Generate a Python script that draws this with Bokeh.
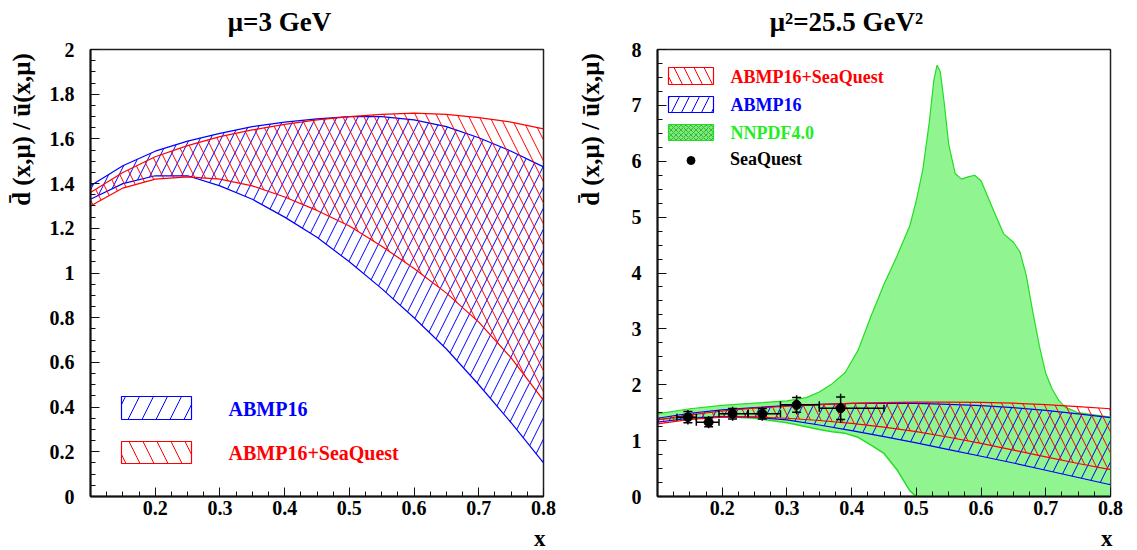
import numpy as np
from bokeh.plotting import figure
from bokeh.layouts import row, column
from bokeh.models import (FixedTicker, PrintfTickFormatter, Label, BoxAnnotation,
                          Legend, LegendItem, Range1d)
from bokeh.core.properties import value
from bokeh.embed import file_html
from bokeh.resources import INLINE

# ---------------- data ----------------
x_nodes = [0.10, 0.15, 0.20, 0.25, 0.30, 0.35, 0.40, 0.45, 0.50, 0.55, 0.60, 0.65, 0.70, 0.75, 0.80]

# mu = 3 GeV
l_blue_hi = [1.39, 1.48, 1.545, 1.59, 1.625, 1.655, 1.675, 1.69, 1.70, 1.70, 1.685, 1.655, 1.605, 1.545, 1.475]
l_blue_lo = [1.33, 1.40, 1.435, 1.435, 1.39, 1.33, 1.25, 1.16, 1.05, 0.93, 0.80, 0.66, 0.50, 0.33, 0.15]
l_red_hi = [1.36, 1.45, 1.52, 1.57, 1.61, 1.64, 1.665, 1.685, 1.70, 1.71, 1.715, 1.71, 1.695, 1.675, 1.645]
l_red_lo = [1.30, 1.38, 1.42, 1.43, 1.42, 1.39, 1.34, 1.28, 1.21, 1.12, 1.02, 0.91, 0.78, 0.62, 0.43]

# mu^2 = 25.5 GeV^2
r_blue_hi = [1.40, 1.49, 1.55, 1.59, 1.625, 1.65, 1.665, 1.67, 1.665, 1.65, 1.625, 1.59, 1.54, 1.48, 1.41]
r_blue_lo = [1.33, 1.40, 1.43, 1.42, 1.37, 1.28, 1.18, 1.07, 0.96, 0.84, 0.72, 0.60, 0.47, 0.34, 0.21]
r_red_hi = [1.37, 1.46, 1.53, 1.58, 1.615, 1.645, 1.665, 1.68, 1.69, 1.69, 1.685, 1.67, 1.645, 1.61, 1.57]
r_red_lo = [1.30, 1.38, 1.42, 1.42, 1.40, 1.36, 1.31, 1.24, 1.16, 1.06, 0.95, 0.83, 0.71, 0.59, 0.48]

nn_x = [0.10, 0.15, 0.20, 0.25, 0.30, 0.33, 0.35, 0.37, 0.39, 0.41, 0.43, 0.45, 0.47, 0.49,
        0.50, 0.51, 0.52, 0.527, 0.532, 0.537, 0.543, 0.55, 0.56, 0.57, 0.58, 0.59, 0.60,
        0.62, 0.635, 0.65, 0.66, 0.67, 0.68, 0.69, 0.70, 0.71, 0.72, 0.73, 0.75, 0.80]
nn_hi = [1.48, 1.57, 1.63, 1.67, 1.71, 1.77, 1.87, 2.02, 2.22, 2.62, 3.23, 3.80, 4.30, 4.85,
         5.30, 5.85, 6.70, 7.45, 7.72, 7.60, 7.05, 6.30, 5.78, 5.68, 5.72, 5.75, 5.65,
         5.10, 4.70, 4.55, 4.38, 3.95, 3.30, 2.70, 2.20, 1.92, 1.72, 1.60, 1.50, 1.42]
nn_lo = [1.38, 1.41, 1.43, 1.40, 1.32, 1.25, 1.20, 1.16, 1.13, 1.06, 0.92, 0.77, 0.48, 0.10,
         0.0, 0.0, 0.0, 0.0, 0.0, 0.0, 0.0, 0.0, 0.0, 0.0, 0.0, 0.0, 0.0,
         0.0, 0.0, 0.0, 0.0, 0.0, 0.0, 0.0, 0.0, 0.0, 0.0, 0.0, 0.0, 0.0]

# SeaQuest points
sq_x = [0.147, 0.179, 0.216, 0.262, 0.315, 0.383]
sq_xlo = [0.130, 0.160, 0.195, 0.240, 0.290, 0.350]
sq_xhi = [0.160, 0.195, 0.240, 0.290, 0.350, 0.450]
sq_r = [1.42, 1.33, 1.48, 1.48, 1.64, 1.58]
sq_err_tot = [0.13, 0.11, 0.125, 0.125, 0.17, 0.26]
sq_err_stat = [0.10, 0.08, 0.095, 0.095, 0.13, 0.20]

x_ticks = [0.2, 0.3, 0.4, 0.5, 0.6, 0.7, 0.8]
l_y_ticks = [0, 0.2, 0.4, 0.6, 0.8, 1.0, 1.2, 1.4, 1.6, 1.8, 2.0]
r_y_ticks = [0, 1, 2, 3, 4, 5, 6, 7, 8]

titles = ["\u03bc=3 GeV", "\u03bc\u00b2=25.5 GeV\u00b2"]
YLABEL = "d\u0304 (x,\u03bc) / u\u0304(x,\u03bc)"
XLABEL = "x"

FONT = "Liberation Serif"
BLUE = "#0000ff"
RED = "#ff0000"
GREEN_FILL = "#90f590"
GREEN_LINE = "#22dd22"

TOP_H = 37
ROW_H = 486
BOT_H = 27


def make_fig(width, bl, br, ymax, yticks, yminor):
    p = figure(width=width, height=ROW_H, x_range=Range1d(0.1, 0.8), y_range=Range1d(0, ymax),
               output_backend="svg", toolbar_location=None, title=None,
               min_border_left=bl, min_border_right=br, min_border_top=12, min_border_bottom=27)
    p.grid.visible = False
    p.outline_line_color = "#222222"
    p.outline_line_width = 1.5
    p.background_fill_color = "white"
    p.border_fill_color = "white"
    p.xaxis.ticker = FixedTicker(ticks=x_ticks, minor_ticks=list(np.arange(0.1, 0.8001, 0.025)))
    p.yaxis.ticker = FixedTicker(ticks=yticks, minor_ticks=yminor)
    for ax in (p.xaxis[0], p.yaxis[0]):
        ax.axis_line_color = "#111111"
        ax.axis_line_width = 2
        ax.major_tick_in = 9
        ax.major_tick_out = 0
        ax.minor_tick_in = 5
        ax.minor_tick_out = 0
        ax.major_tick_line_color = "#111111"
        ax.minor_tick_line_color = "#111111"
        ax.major_label_text_font = FONT
        ax.major_label_text_font_style = "bold"
        ax.major_label_text_font_size = "20px"
        ax.major_label_text_color = "black"
        ax.formatter = PrintfTickFormatter(format="%g")
    p.xaxis.major_label_standoff = 4
    p.yaxis.major_label_standoff = 16
    return p


def make_strip(width, height):
    s = figure(width=width, height=height, x_range=Range1d(0, width), y_range=Range1d(0, height),
               output_backend="svg", toolbar_location=None, title=None,
               x_axis_type=None, y_axis_type=None, min_border=0)
    s.grid.visible = False
    s.outline_line_color = None
    s.background_fill_color = "white"
    s.border_fill_color = "white"
    return s


def add_text(p, text, x, y, size, color="black", align="left"):
    p.add_layout(Label(x=x, y=y, x_units="screen", y_units="screen", text=text,
                       text_font=FONT, text_font_style="bold", text_font_size=size,
                       text_color=color, text_align=align, text_baseline="middle"))


def add_band(p, xs, lo, hi, color, pattern):
    p.varea(x=xs, y1=lo, y2=hi, fill_alpha=0, hatch_pattern=pattern, hatch_color=color,
            hatch_scale=21, hatch_weight=1)
    p.line(xs, hi, line_color=color, line_width=1.2)
    p.line(xs, lo, line_color=color, line_width=1.2)


def legend_box(p, left, right, bottom, top, col, pat, scale, fill=None, falpha=0.0, hcol=None):
    p.add_layout(BoxAnnotation(left=left, right=right, bottom=bottom, top=top,
                               left_units="screen", right_units="screen",
                               bottom_units="screen", top_units="screen",
                               fill_color=fill, fill_alpha=falpha, line_color=col, line_width=1.2,
                               line_alpha=1, hatch_pattern=pat, hatch_color=hcol or col,
                               hatch_scale=scale, hatch_weight=1))


# ---------------- left panel ----------------
p1 = make_fig(523, 45, 25, 2, l_y_ticks, list(np.arange(0, 2.001, 0.05)))
add_band(p1, x_nodes, l_blue_lo, l_blue_hi, BLUE, "/")
add_band(p1, x_nodes, l_red_lo, l_red_hi, RED, "\\")

legend_box(p1, 31, 101, 77, 100, BLUE, "/", 28)
legend_box(p1, 31, 101, 33, 55, RED, "\\", 28)
add_text(p1, "ABMP16", 138, 88, "20px", color=BLUE)
add_text(p1, "ABMP16+SeaQuest", 138, 44, "20px", color=RED)

# ---------------- right panel ----------------
p2 = make_fig(524, 44, 27, 8, r_y_ticks, list(np.arange(0, 8.001, 0.25)))
p2.varea(x=nn_x, y1=nn_lo, y2=nn_hi, fill_color=GREEN_FILL, fill_alpha=1)
p2.line(nn_x, nn_hi, line_color=GREEN_LINE, line_width=1.2)
p2.line(nn_x, nn_lo, line_color=GREEN_LINE, line_width=1.5)
add_band(p2, x_nodes, r_blue_lo, r_blue_hi, BLUE, "/")
add_band(p2, x_nodes, r_red_lo, r_red_hi, RED, "\\")

sr = np.array(sq_r)
et = np.array(sq_err_tot)
es = np.array(sq_err_stat)
p2.segment(x0=sq_xlo, y0=sq_r, x1=sq_xhi, y1=sq_r, line_color="black", line_width=1.5)
p2.segment(x0=sq_x, y0=list(sr - et), x1=sq_x, y1=list(sr + et), line_color="black", line_width=1.5)
p2.scatter(x=sq_x + sq_x, y=list(sr - es) + list(sr + es), marker="dash", size=9,
           line_color="black", line_width=1.5)
p2.scatter(x=sq_xlo + sq_xhi, y=sq_r + sq_r, marker="dash", size=7, angle=np.pi / 2,
           line_color="black", line_width=1.5)
pts = p2.scatter(x=sq_x, y=sq_r, marker="circle", size=9, fill_color="black", line_color="black")

legend_box(p2, 11, 56, 412, 429, RED, "\\", 20)
legend_box(p2, 11, 56, 384, 400, BLUE, "/", 20)
legend_box(p2, 11, 56, 356, 372, GREEN_LINE, "x", 5, fill="#7ee87e", falpha=1.0, hcol="#33bb33")
add_text(p2, "ABMP16+SeaQuest", 73, 420, "18px", color=RED)
add_text(p2, "ABMP16", 73, 392, "18px", color=BLUE)
add_text(p2, "NNPDF4.0", 73, 364, "18px", color="#22ee22")

leg = Legend(items=[LegendItem(label="SeaQuest", renderers=[pts])], location=(11, 326),
             border_line_alpha=0, background_fill_alpha=0, padding=0, margin=0, spacing=0,
             glyph_width=45, glyph_height=20, label_standoff=17, label_height=20,
             label_text_font=FONT, label_text_font_style="bold", label_text_font_size="18px",
             label_text_color="black")
p2.add_layout(leg)

# ---------------- outer texts (titles and axis titles) ----------------
top = make_strip(1137, TOP_H)
top.text(x=[279, 846], y=[16, 16], text=titles, text_font=value(FONT), text_font_style="bold",
         text_font_size="27px", text_align="center", text_baseline="alphabetic", text_color="black")

yl1 = make_strip(45, ROW_H)
yl1.text(x=[21], y=[399], text=[YLABEL], angle=np.pi / 2, text_font=value(FONT),
         text_font_style="bold", text_font_size="25px", text_align="center",
         text_baseline="middle", text_color="black")
yl2 = make_strip(45, ROW_H)
yl2.text(x=[22], y=[399], text=[YLABEL], angle=np.pi / 2, text_font=value(FONT),
         text_font_style="bold", text_font_size="25px", text_align="center",
         text_baseline="middle", text_color="black")

bot = make_strip(1137, BOT_H)
bot.text(x=[545, 1112], y=[12.4, 12.4], text=[XLABEL, XLABEL], text_font=value(FONT),
         text_font_style="bold", text_font_size="23px", text_align="right",
         text_baseline="alphabetic", text_color="black")

layout = column(top, row(yl1, p1, yl2, p2), bot)
open("out.html", "w").write(file_html(layout, INLINE))
